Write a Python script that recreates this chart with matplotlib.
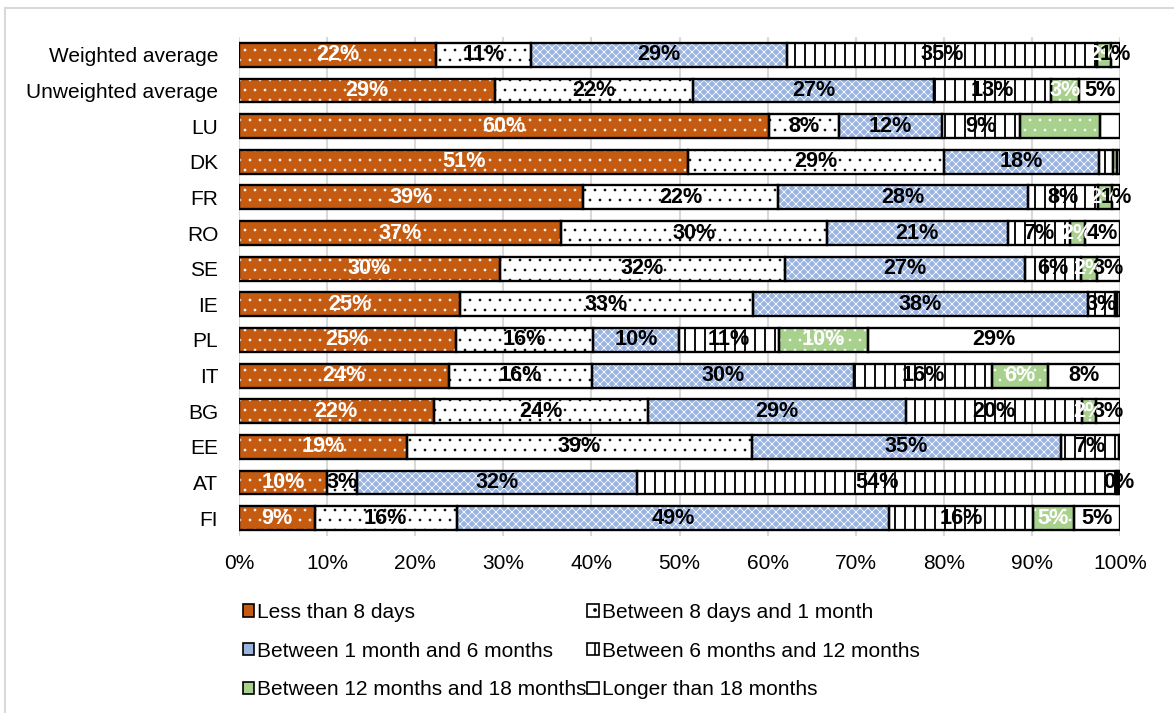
import numpy as np
import matplotlib as mpl
import matplotlib.pyplot as plt
from matplotlib.patches import Patch, Rectangle

DPI = 120
plt.rcParams['font.family'] = ['Liberation Sans', 'DejaVu Sans']
plt.rcParams['font.size'] = 12.5

# share of cases by duration, per country (percent)
countries = ['Weighted average', 'Unweighted average', 'LU', 'DK', 'FR', 'RO', 'SE',
             'IE', 'PL', 'IT', 'BG', 'EE', 'AT', 'FI']
less_8d = [22.4, 29.1, 60.2, 51.0, 39.1, 36.6, 29.6, 25.1, 24.6, 23.8, 22.1, 19.1, 10.0, 8.6]
d8_to_1m = [10.7, 22.4, 7.9, 29.0, 22.1, 30.1, 32.4, 33.2, 15.6, 16.3, 24.3, 39.1, 3.4, 16.1]
m1_to_6m = [29.1, 27.4, 11.7, 17.6, 28.4, 20.6, 27.2, 38.1, 9.7, 29.7, 29.3, 35.1, 31.8, 49.1]
m6_to_12m = [35.2, 13.3, 8.8, 1.6, 7.9, 7.0, 6.4, 3.0, 11.4, 15.7, 20.0, 6.6, 54.4, 16.3]
m12_to_18m = [1.6, 3.2, 9.1, 0.5, 1.6, 1.7, 1.8, 0.3, 10.1, 6.3, 1.6, 0.1, 0.2, 4.7]
over_18m = [1.0, 4.6, 2.3, 0.3, 0.9, 4.0, 2.6, 0.3, 28.6, 8.2, 2.7, 0.0, 0.2, 5.2]

series_names = ['Less than 8 days', 'Between 8 days and 1 month',
                'Between 1 month and 6 months', 'Between 6 months and 12 months',
                'Between 12 months and 18 months', 'Longer than 18 months']
series = [less_8d, d8_to_1m, m1_to_6m, m6_to_12m, m12_to_18m, over_18m]

# (face colour, hatch colour, hatch, label colour, hatch linewidth)
styles = [
    ('#c55a11', 'white', '..', 'white', 0.4),
    ('white', 'black', '..', 'black', 0.4),
    ('#9ab4e2', 'white', 'xxxxx', 'black', 0.45),
    ('white', 'black', '||', 'black', 1.1),
    ('#a9d18e', 'white', '..', 'white', 0.4),
    ('white', 'white', '', 'black', 1.0),
]

# labels left out on the thinnest slices
hidden = {(2, 4), (2, 5), (3, 3), (3, 4), (3, 5), (7, 4), (7, 5), (11, 4), (11, 5), (12, 4)}

fig = plt.figure(figsize=(1174 / DPI, 713 / DPI), dpi=DPI)
ax = fig.add_axes([239 / 1174, 1 - 536 / 713, 881 / 1174, 499 / 713])

y = np.arange(len(countries))
left = np.zeros(len(countries))
bar_h = 0.67
for k, (vals, (fc, hc, hatch, tc, hlw)) in enumerate(zip(series, styles)):
    vals = np.array(vals)
    with mpl.rc_context({'hatch.linewidth': hlw}):
        ax.barh(y, vals, left=left, height=bar_h, color=fc, edgecolor=hc,
                hatch=hatch, linewidth=0, zorder=2)
    ax.barh(y, vals, left=left, height=bar_h, fill=False, edgecolor='black',
            linewidth=1.4, zorder=3)
    for i, v in enumerate(vals):
        if (i, k) in hidden:
            continue
        ax.text(left[i] + v / 2, y[i], f'{round(v)}%', ha='center', va='center',
                color=tc, fontweight='bold', fontsize=13, zorder=4)
    left += vals

ax.set_xlim(0, 100)
ax.set_ylim(len(countries) - 0.5, -0.5)
ax.set_xticks(np.arange(0, 101, 10))
ax.set_xticklabels([f'{t}%' for t in range(0, 101, 10)])
ax.set_yticks(y)
ax.set_yticklabels(countries)
ax.tick_params(length=0)
ax.tick_params(axis='y', pad=12.5)
ax.tick_params(axis='x', pad=11)
ax.grid(axis='x', color='#d9d9d9', linewidth=1.25, zorder=0)
ax.set_axisbelow(True)
for s in ax.spines.values():
    s.set_visible(False)

# legend, filled row by row
handles = [Patch(facecolor=fc, edgecolor='black', linewidth=1.0, hatch=hatch if hc == 'black' else '')
           for fc, hc, hatch, tc, hlw in styles]
order = [0, 2, 4, 1, 3, 5]
fig.legend([handles[i] for i in order], [series_names[i] for i in order],
           loc='upper left', bbox_to_anchor=(224 / 1174, 1 - 584 / 713), ncol=2,
           frameon=False, handlelength=0.55, handleheight=0.55, handletextpad=0.15,
           columnspacing=0.02, labelspacing=0.95, fontsize=12.5)

# thin grey chart frame
fig.patches.append(Rectangle((5 / 1174, -0.05), 1.2, 1 - 8 / 713 + 0.05,
                             transform=fig.transFigure, fill=False,
                             edgecolor='#d9d9d9', linewidth=1.25))

fig.savefig('out.png', dpi=DPI)
